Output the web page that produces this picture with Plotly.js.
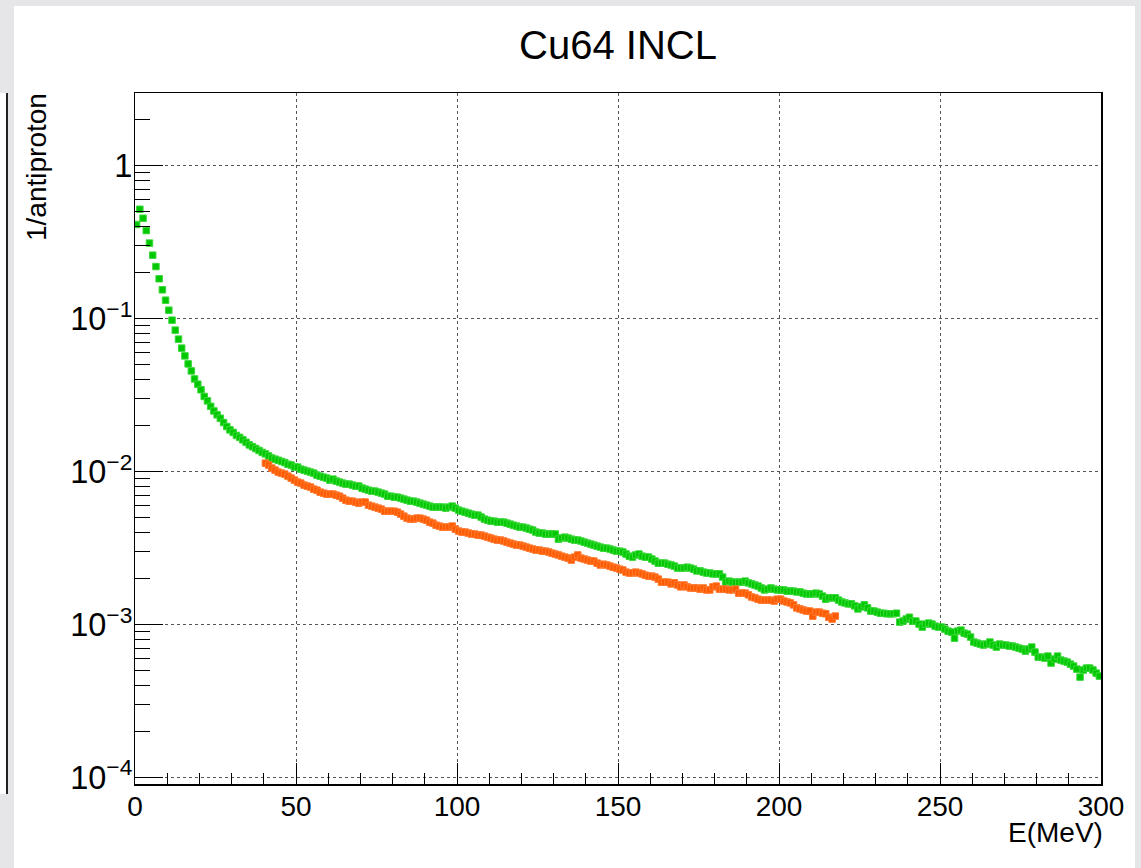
<!DOCTYPE html>
<html>
<head>
<meta charset="utf-8">
<script src="https://cdn.plot.ly/plotly-3.0.1.min.js"></script>
<style>
  html, body { margin: 0; padding: 0; width: 1141px; height: 868px; overflow: hidden; background: #e6e5e7; }
  #frame { position: absolute; left: 14px; top: 6px; width: 1121px; height: 862px; background: #ffffff; }
  #chart { position: absolute; left: 14px; top: 6px; width: 1121px; height: 862px; }
  #strip { position: absolute; left: 0px; top: 93px; width: 6px; height: 701px; background: #ffffff; border-right: 2px solid #222; }
</style>
</head>
<body>
<div id="frame"></div>
<div id="strip"></div>
<div id="chart"></div>
<script>
// Histogram binning (1 MeV bins)
const binWidth = 1;
const greenFirstBin = 0;   // MeV
const redFirstBin = 40;    // MeV

// Green series (1/antiproton), bins 0-300 MeV
const greenValues = [
  0.414, 0.521, 0.455, 0.378, 0.313, 0.261, 0.220, 0.183, 0.155, 0.1325,
  0.114, 0.0981, 0.0844, 0.0737, 0.0644, 0.0573, 0.0508, 0.0457, 0.0405, 0.0374,
  0.0344, 0.0311, 0.0291, 0.0268, 0.0250, 0.0236, 0.0224, 0.0210, 0.0198, 0.0188,
  0.0181, 0.0173, 0.0168, 0.0162, 0.0156, 0.0150, 0.0146, 0.0142, 0.0138, 0.0134,
  0.0131, 0.0127, 0.0123, 0.0121, 0.0119, 0.0117, 0.0115, 0.0112, 0.01107, 0.01074,
  0.01074, 0.01042, 0.01026, 0.01011, 0.00996, 0.00981, 0.00952, 0.00937, 0.00923, 0.00910,
  0.00883, 0.00896, 0.00870, 0.00857, 0.00844, 0.00831, 0.00831, 0.00819, 0.00807, 0.00807,
  0.00783, 0.00771, 0.00759, 0.00748, 0.00748, 0.00737, 0.00726, 0.00715, 0.00693, 0.00693,
  0.00683, 0.00683, 0.00673, 0.00663, 0.00653, 0.00643, 0.00643, 0.00634, 0.00624, 0.00615,
  0.00606, 0.00597, 0.00588, 0.00588, 0.00588, 0.00588, 0.00579, 0.00588, 0.00597, 0.00579,
  0.00562, 0.00553, 0.00545, 0.00537, 0.00529, 0.00521, 0.00521, 0.00506, 0.00491, 0.00483,
  0.00476, 0.00476, 0.00469, 0.00469, 0.00469, 0.00462, 0.00455, 0.00448, 0.00442, 0.00435,
  0.00435, 0.00429, 0.00422, 0.00416, 0.00404, 0.00398, 0.00398, 0.00392, 0.00392, 0.00392,
  0.00392, 0.00363, 0.00369, 0.00374, 0.00369, 0.00363, 0.00358, 0.00358, 0.00353, 0.00347,
  0.00342, 0.00337, 0.00332, 0.00327, 0.00322, 0.00317, 0.00317, 0.00313, 0.00308, 0.00303,
  0.00303, 0.00299, 0.00290, 0.00281, 0.00277, 0.00286, 0.00290, 0.00281, 0.00277, 0.00277,
  0.00269, 0.00261, 0.00253, 0.00253, 0.00253, 0.00249, 0.00246, 0.00242, 0.00235, 0.00235,
  0.00235, 0.00238, 0.00235, 0.00231, 0.00225, 0.00225, 0.00221, 0.00218, 0.00218, 0.00215,
  0.00215, 0.00215, 0.00205, 0.00190, 0.00193, 0.00190, 0.00190, 0.00190, 0.00190, 0.00193,
  0.00188, 0.00185, 0.00182, 0.00179, 0.00174, 0.00169, 0.00171, 0.00174, 0.00171, 0.00169,
  0.00169, 0.00169, 0.00166, 0.00166, 0.00166, 0.00164, 0.00164, 0.00161, 0.00159, 0.00159,
  0.00159, 0.00161, 0.00159, 0.00154, 0.00147, 0.00150, 0.00150, 0.00150, 0.00145, 0.00141,
  0.00139, 0.00137, 0.00137, 0.00133, 0.00127, 0.00131, 0.00135, 0.00129, 0.00123, 0.00123,
  0.00121, 0.00119, 0.00119, 0.00118, 0.00118, 0.00118, 0.00119, 0.001041, 0.001057, 0.00109,
  0.00112, 0.001057, 0.001057, 0.001010, 0.000966, 0.001010, 0.001026, 0.001010, 0.000980, 0.000966,
  0.000966, 0.000937, 0.000909, 0.000896, 0.000818, 0.000909, 0.000923, 0.000882, 0.000869, 0.000831,
  0.000771, 0.000759, 0.000748, 0.000737, 0.000748, 0.000771, 0.000737, 0.000715, 0.000748, 0.000737,
  0.000737, 0.000726, 0.000726, 0.000715, 0.000704, 0.000694, 0.000673, 0.000694, 0.000715, 0.000663,
  0.000615, 0.000615, 0.000606, 0.000624, 0.000562, 0.000597, 0.000624, 0.000588, 0.000579, 0.000570,
  0.000553, 0.000537, 0.000513, 0.000455, 0.000506, 0.000521, 0.000521, 0.000506, 0.000483, 0.000462
];

// Orange series (1/antiproton), bins 40-218 MeV
const redValues = [
  0.01140, 0.01107, 0.01058, 0.01026, 0.00996, 0.00981, 0.00966, 0.00937, 0.00910, 0.00883,
  0.00857, 0.00844, 0.00819, 0.00807, 0.00795, 0.00771, 0.00759, 0.00737, 0.00726, 0.00715,
  0.00715, 0.00715, 0.00704, 0.00693, 0.00673, 0.00653, 0.00643, 0.00643, 0.00634, 0.00624,
  0.00634, 0.00634, 0.00606, 0.00597, 0.00588, 0.00579, 0.00570, 0.00553, 0.00553, 0.00553,
  0.00553, 0.00545, 0.00529, 0.00513, 0.00498, 0.00491, 0.00491, 0.00498, 0.00498, 0.00491,
  0.00483, 0.00469, 0.00462, 0.00448, 0.00442, 0.00435, 0.00435, 0.00435, 0.00442, 0.00422,
  0.00410, 0.00404, 0.00404, 0.00398, 0.00392, 0.00392, 0.00386, 0.00386, 0.00380, 0.00374,
  0.00369, 0.00363, 0.00358, 0.00358, 0.00353, 0.00347, 0.00342, 0.00337, 0.00332, 0.00332,
  0.00327, 0.00322, 0.00317, 0.00313, 0.00308, 0.00308, 0.00303, 0.00303, 0.00299, 0.00294,
  0.00290, 0.00286, 0.00281, 0.00277, 0.00273, 0.00265, 0.00277, 0.00286, 0.00273, 0.00269,
  0.00265, 0.00261, 0.00261, 0.00253, 0.00246, 0.00249, 0.00246, 0.00242, 0.00238, 0.00235,
  0.00231, 0.00228, 0.00221, 0.00218, 0.00218, 0.00221, 0.00218, 0.00215, 0.00211, 0.00208,
  0.00208, 0.00205, 0.00199, 0.00190, 0.00190, 0.00190, 0.00185, 0.00188, 0.00182, 0.00177,
  0.00182, 0.00177, 0.00174, 0.00174, 0.00174, 0.00171, 0.00174, 0.00169, 0.00169, 0.00177,
  0.00179, 0.00171, 0.00171, 0.00171, 0.00169, 0.00169, 0.00171, 0.00161, 0.00161, 0.00161,
  0.00157, 0.00152, 0.00150, 0.00147, 0.00145, 0.00145, 0.00145, 0.00145, 0.00143, 0.00147,
  0.00147, 0.00143, 0.00141, 0.00139, 0.00135, 0.00129, 0.00127, 0.00125, 0.00123, 0.00123,
  0.00114, 0.00121, 0.00121, 0.00119, 0.00118, 0.00112, 0.00109, 0.00114
];

const titleText = 'Cu64 INCL';
const xTitle = 'E(MeV)';
const yTitle = '1/antiproton';

const binCenters = (first, n) => Array.from({length: n}, (_, i) => first + (i + 0.5) * binWidth);

const font = 'Liberation Sans, Arial, Helvetica, sans-serif';

const traces = [
  {
    type: 'scatter', mode: 'markers', name: 'green',
    x: binCenters(greenFirstBin, greenValues.length), y: greenValues,
    marker: { symbol: 'square', size: 6.5, color: '#00c800', line: { width: 1, color: '#3ad83a' } },
    hoverinfo: 'x+y'
  },
  {
    type: 'scatter', mode: 'markers', name: 'orange',
    x: binCenters(redFirstBin, redValues.length), y: redValues,
    marker: { symbol: 'square', size: 6.5, color: '#ff5a00', line: { width: 1, color: '#ff7a30' } },
    hoverinfo: 'x+y'
  }
];

const layout = {
  width: 1121, height: 862,
  margin: { l: 121, r: 34, t: 87, b: 84 },
  paper_bgcolor: '#ffffff', plot_bgcolor: '#ffffff',
  showlegend: false,
  font: { family: font, color: '#000', size: 26 },
  title: { text: titleText, font: { family: font, size: 40, color: '#000' }, x: 0.5, xref: 'paper', xanchor: 'center', y: 1, yref: 'paper', yanchor: 'bottom', pad: { b: 34 } },
  xaxis: {
    type: 'linear', range: [0, 300], dtick: 50, tick0: 0,
    ticks: 'inside', ticklen: 21, tickwidth: 1, tickcolor: '#000',
    showline: true, linecolor: '#000', linewidth: 1.5, mirror: true,
    showgrid: true, gridcolor: '#555', gridwidth: 1, griddash: 'dot',
    zeroline: false, ticklabelstandoff: -3,
    tickfont: { family: font, size: 28, color: '#000' },
    minor: { dtick: 10, ticks: 'inside', ticklen: 11, tickwidth: 1, tickcolor: '#000', showgrid: false }
  },
  yaxis: {
    type: 'log', range: [-4.041, 0.477], dtick: 1,
    exponentformat: 'power',
    ticks: 'inside', ticklen: 28, tickwidth: 1, tickcolor: '#000',
    showline: true, linecolor: '#000', linewidth: 1.5, mirror: true,
    showgrid: true, gridcolor: '#555', gridwidth: 1, griddash: 'dot',
    zeroline: false, ticklabelstandoff: -4,
    tickfont: { family: font, size: 26, color: '#000' },
    minor: { dtick: 'D1', ticks: 'inside', ticklen: 15, tickwidth: 1, tickcolor: '#000', showgrid: false }
  },
  annotations: [
    { text: yTitle, xref: 'paper', yref: 'paper', x: 0, y: 1, xshift: -99, xanchor: 'center', yanchor: 'top', yshift: 2,
      textangle: -90, showarrow: false, font: { family: font, size: 28, color: '#000' } },
    { text: xTitle, xref: 'paper', yref: 'paper', x: 1, y: 0, yshift: -31, xshift: 4, xanchor: 'right', yanchor: 'top',
      showarrow: false, font: { family: font, size: 28, color: '#000' } }
  ]
};

Plotly.newPlot('chart', traces, layout, { displayModeBar: false, staticPlot: true });
</script>
</body>
</html>
